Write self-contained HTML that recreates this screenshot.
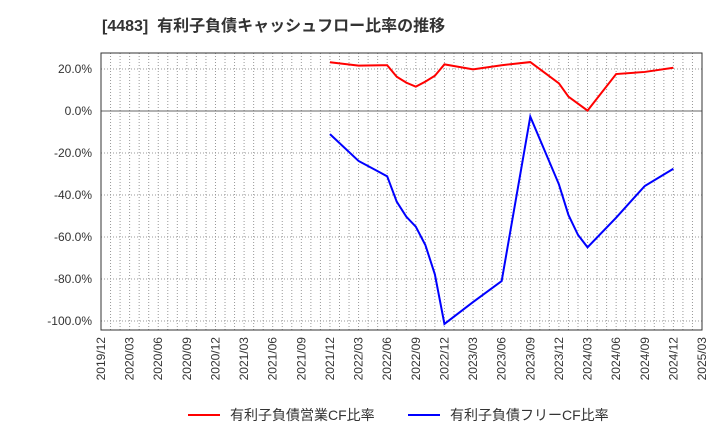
<!DOCTYPE html>
<html><head><meta charset="utf-8"><style>
body{margin:0;background:#fff;}
svg{font-family:"Liberation Sans","Noto Sans CJK JP",sans-serif;}
</style></head><body>
<svg id="chart" width="720" height="440">
<text x="102" y="31" font-size="16" font-weight="bold" fill="#333" xml:space="preserve" style="white-space:pre">[4483]  有利子負債キャッシュフロー比率の推移</text>
<g id="grid"></g><g id="axes"></g><g id="series"></g>
<g>
<line x1="188" y1="415" x2="220" y2="415" stroke="#f00" stroke-width="2"/>
<text x="230" y="420" font-size="14" fill="#333">有利子負債営業CF比率</text>
<line x1="408" y1="415" x2="440" y2="415" stroke="#00f" stroke-width="2"/>
<text x="450" y="420" font-size="14" fill="#333">有利子負債フリーCF比率</text>
</g>
</svg>
<script>
const tickLabels=["2019/12","2020/03","2020/06","2020/09","2020/12","2021/03","2021/06","2021/09","2021/12","2022/03","2022/06","2022/09","2022/12","2023/03","2023/06","2023/09","2023/12","2024/03","2024/06","2024/09","2024/12","2025/03"];
const yTicks=[20,0,-20,-40,-60,-80,-100];
const redMonths=[24,27,30,31,32,33,34,35,36,39,42,45,48,49,51,54,57,60];
const redValues=[23.2,21.6,21.8,16.3,13.5,11.6,14,16.8,22.2,19.8,21.8,23.3,13.2,6.8,0.2,17.6,18.6,20.6];
const blueMonths=[24,27,30,31,32,33,34,35,36,39,42,45,48,49,50,51,54,57,60];
const blueValues=[-11,-23.8,-31.1,-43.2,-50.3,-55.1,-63.8,-77.8,-101.4,-91,-81,-2.7,-34.9,-49.5,-59,-64.9,-50.8,-35.7,-27.5];
const L=101,R=702,T=53,B=330,NM=63;
const x=m=>L+m*(R-L)/NM;
const y=v=>111-v*2.1;
const NS="http://www.w3.org/2000/svg";
function mk(t,a,p){const e=document.createElementNS(NS,t);for(const k in a)e.setAttribute(k,a[k]);p.appendChild(e);return e;}
const grid=document.getElementById('grid'),axes=document.getElementById('axes'),ser=document.getElementById('series');
for(let m=1;m<NM;m++){const l=mk('line',{x1:x(m),x2:x(m),y1:T,y2:B,stroke:'#999','stroke-dasharray':'1,2','stroke-width':1},grid);

}
yTicks.forEach(v=>{const l=mk('line',{x1:L,x2:R,y1:y(v),y2:y(v),stroke:v===0?'#666':'#999','stroke-dasharray':v===0?'':'1,2','stroke-width':1},grid);


const t=mk('text',{x:L-9,y:y(v)+4,'font-size':12,fill:'#333','text-anchor':'end'},axes);t.textContent=v.toFixed(1)+'%';

});
tickLabels.forEach((s,i)=>{const xx=x(i*3);const t=mk('text',{x:0,y:0,'font-size':12,fill:'#333','text-anchor':'end',transform:`translate(${xx+4},337) rotate(-90)`},axes);t.textContent=s;

});
const fr=mk('rect',{x:L,y:T,width:R-L,height:B-T,fill:'none',stroke:'#333','stroke-width':1},axes);


function line(ms,vs,c,name){const p=mk('polyline',{points:ms.map((m,i)=>x(m)+','+y(vs[i])).join(' '),fill:'none',stroke:c,'stroke-width':2},ser);

}
line(redMonths,redValues,'#f00','operating-cf-line');
line(blueMonths,blueValues,'#00f','free-cf-line');
</script>
</body></html>
